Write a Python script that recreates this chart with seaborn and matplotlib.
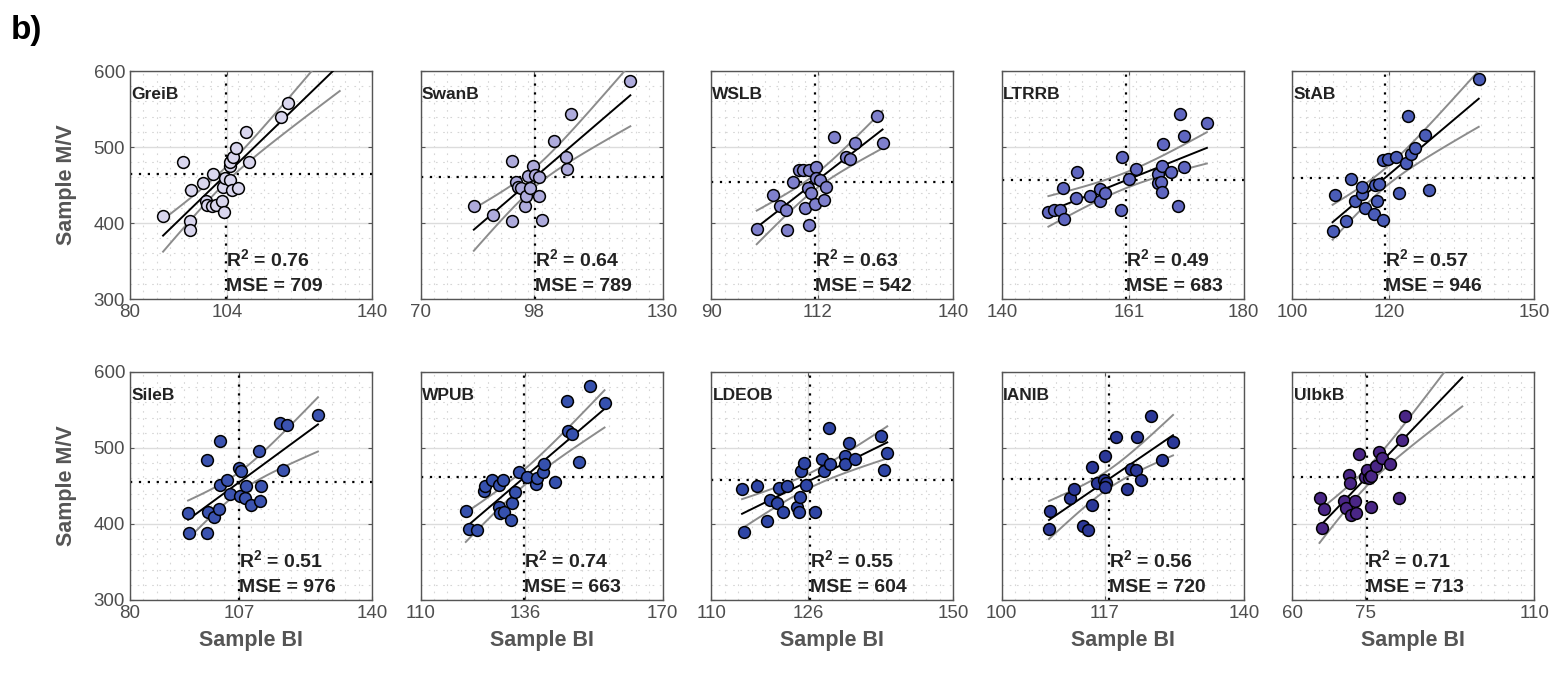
import matplotlib
matplotlib.use('Agg')
import matplotlib.pyplot as plt
from matplotlib.ticker import FixedLocator
import matplotlib.transforms as mtransforms
import seaborn as sns
import numpy as np
import pandas as pd

# ---- data ----
sites = ['GreiB', 'SwanB', 'WSLB', 'LTRRB', 'StAB',
         'SileB', 'WPUB', 'LDEOB', 'IANIB', 'UlbkB']
r2_text = ['0.76', '0.64', '0.63', '0.49', '0.57',
           '0.51', '0.74', '0.55', '0.56', '0.71']
mse_text = ['709', '789', '542', '683', '946',
            '976', '663', '604', '720', '713']
x_ticks = [[80, 104, 140], [70, 98, 130], [90, 112, 140], [140, 161, 180], [100, 120, 150],
           [80, 107, 140], [110, 136, 170], [110, 126, 150], [100, 117, 140], [60, 75, 110]]
colors = ['#d9d6ee', '#aeabdc', '#7f80cc', '#5f66c0', '#4a5cb8',
          '#3b53b0', '#3651ae', '#2f46a6', '#2b3898', '#4a2686']

greib_x = [88.2, 93.2, 94.8, 94.8, 95.0, 98.0, 98.8, 99.0, 100.4, 100.6, 101.4, 102.7, 103.2, 103.1,
           103.5, 104.7, 104.9, 105.4, 104.9, 105.5, 105.4, 106.8, 106.4, 108.8, 109.5, 117.5, 119.1, 132.0]
greib_y = [408.6, 480.9, 402.0, 391.0, 443.6, 452.4, 428.3, 424.0, 422.6, 464.7, 424.0, 428.3, 413.9, 448.0,
           459.0, 456.8, 475.2, 484.0, 480.9, 487.5, 443.6, 445.8, 498.4, 520.3, 480.9, 540.0, 557.5, 625.0]

swanb_x = [83.2, 88.0, 92.7, 92.7, 93.7, 94.1, 95.0, 95.8, 96.2, 96.6, 97.0, 97.9, 98.3, 99.3, 99.3,
           100.2, 103.0, 106.1, 106.3, 107.3, 122.0]
swanb_y = [421.8, 410.0, 482.2, 402.0, 454.6, 448.0, 445.8, 421.8, 434.9, 461.2, 445.8, 475.2, 463.4, 460.3,
           435.8, 403.4, 508.5, 486.6, 470.8, 543.1, 587.3]

wslb_x = [99.4, 102.8, 104.3, 105.4, 105.7, 107.0, 108.1, 109.0, 110.3, 111.6, 109.3, 110.3, 110.0, 110.7,
          111.4, 111.7, 112.4, 113.8, 113.4, 115.3, 117.8, 118.6, 119.7, 124.3, 125.4]
wslb_y = [392.4, 437.0, 423.0, 416.5, 390.2, 453.3, 470.0, 470.0, 470.0, 474.3, 419.8, 396.8, 445.8, 439.3,
          425.3, 459.0, 456.8, 448.0, 430.5, 513.7, 487.5, 484.0, 505.8, 540.9, 505.0]

ltrrb_x = [147.7, 148.6, 149.7, 150.3, 150.1, 152.3, 152.5, 154.5, 156.3, 156.3, 157.0, 159.7, 159.8, 161.0,
           162.2, 165.8, 165.8, 166.5, 166.3, 166.4, 166.6, 167.9, 169.1, 169.5, 170.1, 170.1, 173.9]
ltrrb_y = [414.3, 417.4, 417.4, 405.0, 445.8, 432.7, 466.9, 434.9, 444.5, 429.2, 440.1, 416.5, 486.2, 457.7,
           471.3, 464.3, 452.4, 475.2, 453.3, 440.6, 503.6, 466.9, 422.6, 543.1, 515.0, 474.3, 532.1]

stab_x = [108.3, 108.9, 111.1, 112.2, 112.9, 114.3, 114.4, 114.9, 116.8, 117.0, 117.5, 117.9, 118.7, 118.7,
          119.7, 121.5, 122.0, 123.5, 123.9, 124.6, 125.4, 127.4, 128.2, 138.5]
stab_y = [389.0, 437.0, 402.0, 457.7, 429.2, 438.4, 447.2, 419.8, 412.4, 450.2, 429.2, 451.6, 403.4, 483.1,
          484.0, 486.6, 440.1, 479.6, 540.9, 491.0, 498.4, 515.9, 443.6, 589.0]

sileb_x = [94.4, 94.7, 99.0, 99.1, 99.4, 100.8, 102.1, 102.4, 102.4, 104.1, 104.7, 107.0, 107.6, 107.2,
           108.6, 108.8, 110.1, 112.0, 112.3, 112.4, 117.1, 119.0, 117.9, 126.6]
sileb_y = [414.7, 388.5, 483.9, 388.5, 416.0, 409.5, 419.1, 508.9, 451.1, 457.7, 439.3, 473.9, 469.5, 437.1,
           433.6, 449.8, 424.8, 495.8, 430.1, 449.8, 533.4, 530.0, 471.7, 543.1]

wpub_x = [121.2, 122.0, 124.1, 125.7, 126.0, 127.8, 129.5, 130.5, 129.5, 129.7, 130.7, 132.5, 132.7, 133.3,
          134.4, 136.4, 138.7, 138.8, 140.3, 140.5, 143.4, 146.3, 146.5, 147.6, 149.2, 152.0, 155.6]
wpub_y = [416.9, 392.8, 391.9, 443.2, 449.8, 457.7, 451.1, 458.5, 421.8, 413.9, 416.0, 405.1, 427.9, 442.3,
          468.6, 462.1, 452.4, 459.9, 468.6, 478.7, 455.5, 561.9, 522.5, 518.1, 481.8, 581.6, 559.7]

ldeob_x = [115.1, 115.4, 117.6, 119.3, 119.8, 120.8, 121.2, 121.9, 122.5, 124.1, 124.5, 124.7, 124.9, 125.4,
           125.7, 127.2, 128.3, 128.6, 129.7, 129.5, 132.1, 132.1, 132.7, 133.8, 138.1, 139.1, 138.6]
ldeob_y = [445.8, 389.8, 450.2, 403.8, 431.4, 427.0, 448.0, 416.0, 450.2, 422.6, 416.0, 434.9, 469.9, 480.9,
           451.1, 415.2, 485.3, 469.5, 479.6, 526.9, 489.3, 479.6, 506.8, 485.3, 515.5, 494.0, 471.7]

ianib_x = [107.8, 107.9, 111.2, 111.9, 113.5, 114.2, 114.9, 114.9, 115.7, 117.1, 116.9, 117.3, 117.1, 118.9,
           120.7, 121.4, 122.1, 123.0, 122.3, 124.6, 126.5, 128.3]
ianib_y = [393.3, 417.4, 433.6, 445.5, 397.7, 392.0, 424.8, 475.2, 454.2, 489.2, 457.7, 453.3, 448.9, 514.6,
           446.7, 473.0, 470.8, 457.7, 514.6, 541.8, 484.8, 508.0]

ulbkb_x = [65.6, 66.2, 66.5, 70.6, 71.0, 71.7, 72.0, 72.2, 72.9, 73.1, 73.8, 75.1, 75.4, 75.8, 76.3, 76.3,
           77.3, 77.8, 78.6, 80.1, 82.1, 82.7, 83.2, 95.1]
ulbkb_y = [433.6, 394.2, 419.6, 430.5, 420.4, 465.1, 453.3, 411.7, 430.5, 413.9, 491.9, 462.1, 470.8, 459.9,
           462.9, 422.6, 476.1, 494.9, 486.2, 478.7, 434.5, 511.1, 541.8, 630.0]

all_x = [greib_x, swanb_x, wslb_x, ltrrb_x, stab_x, sileb_x, wpub_x, ldeob_x, ianib_x, ulbkb_x]
all_y = [greib_y, swanb_y, wslb_y, ltrrb_y, stab_y, sileb_y, wpub_y, ldeob_y, ianib_y, ulbkb_y]

plt.rcParams['font.family'] = ['Liberation Sans', 'DejaVu Sans']
plt.rcParams['mathtext.fontset'] = 'custom'
plt.rcParams['mathtext.bf'] = 'Liberation Sans:bold'
plt.rcParams['mathtext.rm'] = 'Liberation Sans'
tick_col = '#4d4d4d'
label_col = '#555555'

fig = plt.figure(figsize=(15.57, 6.73), dpi=100)

left0 = 130 / 1557
w = 242 / 1557
step = 290.6 / 1557
h = 228 / 673
bottoms = [1 - 299 / 673, 1 - 600 / 673]

for i in range(10):
    row, col = divmod(i, 5)
    ax = fig.add_axes([left0 + col * step, bottoms[row], w, h])
    df = pd.DataFrame({'bi': all_x[i], 'mv': all_y[i]})
    lo, mid, hi = x_ticks[i]

    # grids
    ax.set_xlim(lo, hi)
    ax.set_ylim(300, 600)
    ax.xaxis.set_major_locator(FixedLocator(x_ticks[i]))
    ax.yaxis.set_major_locator(FixedLocator([300, 400, 500, 600]))
    ax.xaxis.set_minor_locator(FixedLocator(np.linspace(lo, hi, 19)))
    ax.yaxis.set_minor_locator(FixedLocator(np.arange(300, 601, 20)))
    ax.grid(True, which='major', color='#dcdcdc', lw=1.0, ls='-')
    ax.grid(True, which='minor', color='#d6d6d6', lw=0.8, ls=(0, (1.5, 5)))
    ax.set_axisbelow(True)

    # mean lines
    xm = df['bi'].mean()
    ym = df['mv'].mean()
    ax.axvline(xm, color='black', lw=1.6, ls=(0, (1, 3)), zorder=2)
    ax.axhline(ym, color='black', lw=1.6, ls=(0, (1, 3)), zorder=2)

    # regression + 95% confidence band of the fit
    n = len(df)
    b1, b0 = np.polyfit(df['bi'], df['mv'], 1)
    xs = np.linspace(df['bi'].min(), df['bi'].max(), 100)
    yhat = b0 + b1 * xs
    resid = df['mv'] - (b0 + b1 * df['bi'])
    s = np.sqrt((resid ** 2).sum() / (n - 2))
    sxx = ((df['bi'] - xm) ** 2).sum()
    tval = 1.96 * (1 + 1.2 / (n - 2))
    half = tval * s * np.sqrt(1 / n + (xs - xm) ** 2 / sxx)
    ax.plot(xs, yhat + half, color='#8c8c8c', lw=1.4, zorder=3)
    ax.plot(xs, yhat - half, color='#8c8c8c', lw=1.4, zorder=3)
    ax.plot(xs, yhat, color='black', lw=1.4, zorder=3)

    sns.scatterplot(data=df, x='bi', y='mv', ax=ax, color=colors[i], edgecolor='black',
                    linewidth=1.1, s=72, zorder=4, legend=False)

    # texts
    ax.text(0.005, 0.895, sites[i], transform=ax.transAxes, fontsize=12.5, fontweight='bold',
            color='#222222', va='center', ha='left')
    trans = mtransforms.blended_transform_factory(ax.transData, ax.transAxes)
    ax.text(xm, 0.17, r'R$^{\mathbf{2}}$ = ' + r2_text[i], transform=trans, fontsize=14,
            fontweight='bold', color='#222222', va='center', ha='left')
    ax.text(xm, 0.055, 'MSE = ' + mse_text[i], transform=trans, fontsize=14,
            fontweight='bold', color='#222222', va='center', ha='left')

    ax.tick_params(which='both', direction='in', top=True, right=True, colors='#555555',
                   labelcolor=tick_col, labelsize=13.5, length=3, width=0.8)
    ax.tick_params(which='minor', length=0)
    for sp in ax.spines.values():
        sp.set_color('#555555')
        sp.set_linewidth(1.0)

    ax.set_xlabel('')
    ax.set_ylabel('')
    if col == 0:
        ax.set_ylabel('Sample M/V', fontsize=15.5, fontweight='bold', color=label_col, labelpad=12)
    else:
        ax.set_yticklabels([])
    if row == 1:
        ax.set_xlabel('Sample BI', fontsize=15.5, fontweight='bold', color=label_col, labelpad=6)

fig.text(0.007, 0.955, 'b)', fontsize=24, fontweight='bold', color='black', va='center')

fig.savefig('out.png', dpi=100)
